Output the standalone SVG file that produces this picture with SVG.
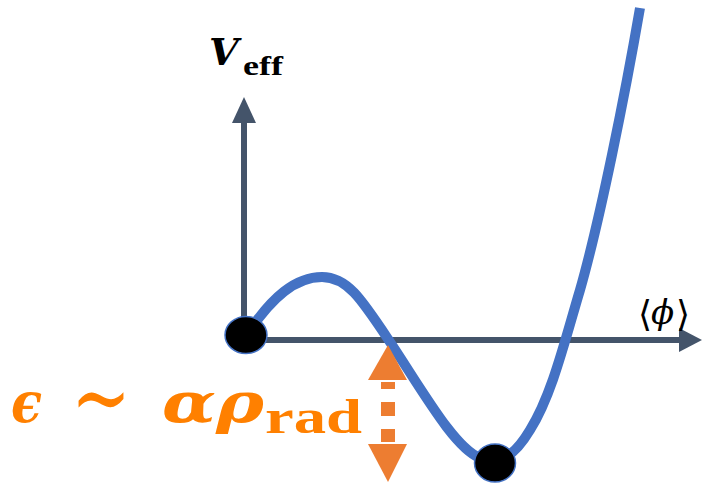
<svg xmlns="http://www.w3.org/2000/svg" width="702" height="486" viewBox="0 0 702 486">
  <style>
    .axis { stroke: #44546A; stroke-width: 6; fill: none; }
    .axhead { fill: #44546A; }
    .curve { stroke: #4472C4; stroke-width: 10; fill: none; stroke-linecap: butt; stroke-linejoin: round; }
    .dot { fill: #000000; stroke: #4472C4; stroke-width: 1.5; }
    .orange { fill: #ED7D31; }
    .lbl { fill: #FF8000; }
  </style>
  <g id="connectors">
    <line class="axis" x1="244" y1="343" x2="244" y2="120"/>
    <polygon class="axhead" points="244,97 232,123 256,123"/>
    <line class="axis" x1="244" y1="340" x2="682" y2="340"/>
    <polygon class="axhead" points="702,340 679,328 679,352"/>
  </g>
  <g id="curve">
    <path class="curve" d="M 250 330 C 272 298 295 277 322 277 C 348 277 362 300 392 345 C 425 395 455 448 480 458 C 500 466 515 455 530 430 C 552 395 565 340 580 290 C 600 220 625 95 640 8"/>
  </g>
  <g id="node-origin">
    <ellipse class="dot" cx="246" cy="335" rx="21" ry="18.5"/>
  </g>
  <g id="node-minimum">
    <ellipse class="dot" cx="495" cy="463" rx="20.5" ry="19"/>
  </g>
  <g id="energy-arrow">
    <polygon class="orange" points="388,345 368,380 407,380"/>
    <rect class="orange" x="381" y="382" width="14" height="7"/>
    <rect class="orange" x="381" y="402" width="14" height="14"/>
    <rect class="orange" x="381" y="429" width="14" height="13"/>
    <polygon class="orange" points="368,444 407,444 388,482"/>
  </g>
  <g id="label-veff">
    <text x="209" y="65" font-size="38" font-weight="bold" font-style="italic" fill="#000" font-family="'DejaVu Serif', serif">V</text>
    <text x="243" y="75" font-size="28" font-weight="bold" fill="#000" font-family="'Liberation Serif', serif" textLength="40" lengthAdjust="spacingAndGlyphs">eff</text>
  </g>
  <g id="label-phi">
    <text x="638" y="326" font-size="36" fill="#000" font-family="'DejaVu Serif', serif">⟨</text>
    <text x="651" y="324" font-size="34" font-style="italic" fill="#000" font-family="'DejaVu Serif', serif">ϕ</text>
    <text x="676" y="326" font-size="36" fill="#000" font-family="'DejaVu Serif', serif">⟩</text>
  </g>
  <g id="label-epsilon" class="lbl" font-family="'DejaVu Serif', serif" font-weight="bold">
    <text x="11" y="422" font-size="56" font-style="italic" textLength="31" lengthAdjust="spacingAndGlyphs">ϵ</text>
    <text transform="translate(71,416) scale(1,1.6)" x="0" y="9" font-size="60" font-weight="normal" textLength="60" lengthAdjust="spacingAndGlyphs">∼</text>
    <text x="162" y="422" font-size="56" font-style="italic" textLength="54" lengthAdjust="spacingAndGlyphs">α</text>
    <text x="216" y="422" font-size="56" font-style="italic" textLength="48" lengthAdjust="spacingAndGlyphs">ρ</text>
    <text x="265" y="433" font-size="48" font-family="'Liberation Serif', serif" textLength="97" lengthAdjust="spacingAndGlyphs">rad</text>
  </g>
</svg>
